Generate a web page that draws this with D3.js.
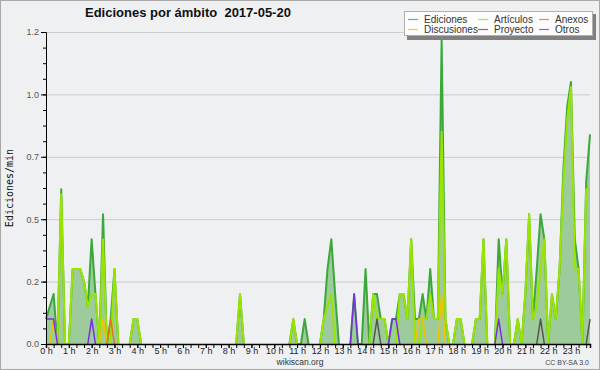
<!DOCTYPE html>
<html>
<head>
<meta charset="utf-8">
<script src="https://cdn.jsdelivr.net/npm/d3@7"></script>
<style>
  body { margin: 0; background: #fff; }
  svg { display: block; }
</style>
</head>
<body>
<svg id="chart" width="600" height="370"></svg>
<script>
// valores cada 10 minutos (144 puntos, 00:00 -> 23:50), ediciones/min
const ediciones = [
  0.1, 0.15, 0.2, 0, 0.62, 0, 0, 0.3, 0.3, 0.3, 0.25, 0.15,
  0.42, 0.2, 0, 0.52, 0, 0.1, 0.3, 0, 0, 0, 0, 0.1,
  0.1, 0, 0, 0, 0, 0, 0, 0, 0, 0, 0, 0,
  0, 0, 0, 0, 0, 0, 0, 0, 0, 0, 0, 0,
  0, 0, 0, 0.2, 0, 0, 0, 0, 0, 0, 0, 0,
  0, 0, 0, 0, 0, 0.1, 0, 0, 0.1, 0, 0, 0,
  0, 0.1, 0.3, 0.42, 0.2, 0, 0, 0, 0, 0.2, 0, 0,
  0.3, 0, 0.2, 0.2, 0.1, 0.1, 0, 0.1, 0.1, 0.2, 0.2, 0.1,
  0.42, 0.1, 0.1, 0.2, 0.1, 0.3, 0.1, 0.1, 1.22, 0.1, 0, 0,
  0.1, 0.1, 0, 0, 0, 0.1, 0.1, 0.42, 0, 0, 0, 0.42,
  0.2, 0.42, 0, 0, 0.1, 0, 0.2, 0.52, 0.1, 0.3, 0.52, 0.42,
  0, 0.2, 0.1, 0.3, 0.7, 0.95, 1.05, 0.42, 0.3, 0, 0.65, 0.84
];
const articulos = [
  0, 0, 0, 0, 0.6, 0, 0, 0.3, 0.3, 0.3, 0.25, 0.15,
  0.2, 0.2, 0, 0.42, 0, 0, 0.3, 0, 0, 0, 0, 0.1,
  0.1, 0, 0, 0, 0, 0, 0, 0, 0, 0, 0, 0,
  0, 0, 0, 0, 0, 0, 0, 0, 0, 0, 0, 0,
  0, 0, 0, 0.2, 0, 0, 0, 0, 0, 0, 0, 0,
  0, 0, 0, 0, 0, 0.1, 0, 0, 0, 0, 0, 0,
  0, 0.1, 0.15, 0.2, 0, 0, 0, 0, 0, 0, 0, 0,
  0, 0, 0.2, 0.1, 0.1, 0.1, 0, 0, 0, 0.2, 0.2, 0.1,
  0.42, 0, 0, 0.1, 0.1, 0.2, 0.1, 0.1, 0.85, 0.1, 0, 0,
  0.1, 0.1, 0, 0, 0, 0.1, 0.1, 0.42, 0, 0, 0, 0.3,
  0.2, 0.42, 0, 0, 0.1, 0, 0.2, 0.52, 0.1, 0.15, 0.3, 0.42,
  0, 0.2, 0.1, 0.3, 0.65, 0.9, 1.03, 0.3, 0.3, 0, 0.62, 0.62
];
const discusiones = [
  0, 0, 0.1, 0, 0, 0, 0, 0, 0, 0, 0, 0,
  0, 0, 0, 0.1, 0, 0, 0, 0, 0, 0, 0, 0,
  0, 0, 0, 0, 0, 0, 0, 0, 0, 0, 0, 0,
  0, 0, 0, 0, 0, 0, 0, 0, 0, 0, 0, 0,
  0, 0, 0, 0, 0, 0, 0, 0, 0, 0, 0, 0,
  0, 0, 0, 0, 0, 0, 0, 0, 0, 0, 0, 0,
  0, 0, 0, 0, 0, 0, 0, 0, 0, 0, 0, 0,
  0, 0, 0, 0, 0, 0, 0, 0, 0, 0, 0, 0,
  0, 0, 0.1, 0.1, 0, 0, 0, 0, 0.2, 0, 0, 0,
  0, 0, 0, 0, 0, 0, 0, 0, 0, 0, 0, 0,
  0, 0, 0, 0, 0, 0, 0, 0, 0, 0, 0, 0,
  0, 0, 0, 0, 0, 0, 0, 0, 0, 0, 0, 0
];
const anexos = [
  0, 0, 0, 0, 0, 0, 0, 0, 0, 0, 0, 0,
  0, 0, 0, 0, 0, 0.1, 0, 0, 0, 0, 0, 0,
  0, 0, 0, 0, 0, 0, 0, 0, 0, 0, 0, 0,
  0, 0, 0, 0, 0, 0, 0, 0, 0, 0, 0, 0,
  0, 0, 0, 0, 0, 0, 0, 0, 0, 0, 0, 0,
  0, 0, 0, 0, 0, 0, 0, 0, 0, 0, 0, 0,
  0, 0, 0, 0, 0, 0, 0, 0, 0, 0, 0, 0,
  0, 0, 0, 0, 0, 0, 0, 0, 0, 0, 0, 0,
  0, 0, 0, 0, 0, 0, 0, 0, 0, 0, 0, 0,
  0, 0, 0, 0, 0, 0, 0, 0, 0, 0, 0, 0,
  0, 0, 0, 0, 0, 0, 0, 0, 0, 0, 0, 0,
  0, 0, 0, 0, 0, 0, 0, 0, 0, 0, 0, 0
];
const proyecto = [
  0, 0, 0, 0, 0, 0, 0, 0, 0, 0, 0, 0,
  0, 0, 0, 0, 0, 0, 0, 0, 0, 0, 0, 0,
  0, 0, 0, 0, 0, 0, 0, 0, 0, 0, 0, 0,
  0, 0, 0, 0, 0, 0, 0, 0, 0, 0, 0, 0,
  0, 0, 0, 0, 0, 0, 0, 0, 0, 0, 0, 0,
  0, 0, 0, 0, 0, 0, 0, 0, 0, 0, 0, 0,
  0, 0, 0, 0, 0, 0, 0, 0, 0, 0, 0, 0,
  0, 0, 0, 0.1, 0, 0, 0, 0, 0, 0, 0, 0,
  0, 0, 0, 0, 0, 0, 0, 0, 0, 0, 0, 0,
  0, 0, 0, 0, 0, 0, 0, 0, 0, 0, 0, 0,
  0, 0, 0, 0, 0, 0, 0, 0, 0, 0, 0.1, 0,
  0, 0, 0, 0, 0, 0, 0, 0, 0, 0, 0, 0.1
];
const otros = [
  0.1, 0.1, 0.1, 0, 0, 0, 0, 0, 0, 0, 0, 0,
  0.1, 0, 0, 0, 0, 0, 0, 0, 0, 0, 0, 0,
  0, 0, 0, 0, 0, 0, 0, 0, 0, 0, 0, 0,
  0, 0, 0, 0, 0, 0, 0, 0, 0, 0, 0, 0,
  0, 0, 0, 0, 0, 0, 0, 0, 0, 0, 0, 0,
  0, 0, 0, 0, 0, 0, 0, 0, 0, 0, 0, 0,
  0, 0, 0, 0, 0, 0, 0, 0, 0, 0.2, 0, 0,
  0, 0, 0, 0, 0, 0, 0, 0.1, 0.1, 0, 0, 0,
  0, 0, 0, 0, 0, 0, 0, 0, 0, 0, 0, 0,
  0, 0, 0, 0, 0, 0, 0, 0, 0, 0, 0, 0.1,
  0, 0, 0, 0, 0, 0, 0, 0, 0, 0, 0, 0,
  0, 0, 0, 0, 0, 0, 0, 0, 0, 0, 0, 0
];

const horas = ["0 h", "1 h", "2 h", "3 h", "4 h", "5 h", "6 h", "7 h", "8 h", "9 h", "10 h", "11 h",
  "12 h", "13 h", "14 h", "15 h", "16 h", "17 h", "18 h", "19 h", "20 h", "21 h", "22 h", "23 h"];
const yTicks = [0, 0.25, 0.5, 0.75, 1, 1.25];
const yTickLabels = ["0.0", "0.2", "0.5", "0.7", "1.0", "1.2"];

const series = [
  { name: "Ediciones", values: ediciones, color: "#3aa83a", width: 2 },
  { name: "Discusiones", values: discusiones, color: "#f2c200", width: 1.5 },
  { name: "Artículos", values: articulos, color: "#9ae400", width: 2 },
  { name: "Proyecto", values: proyecto, color: "#555555", width: 1.5 },
  { name: "Anexos", values: anexos, color: "#f07018", width: 1.5 },
  { name: "Otros", values: otros, color: "#7a2ee6", width: 1.5 }
];

const svg = d3.select("#chart");
const font = "'Liberation Sans', Arial, sans-serif";

// fondo y marco
svg.append("rect")
  .attr("x", 0.5).attr("y", 0.5)
  .attr("width", 599).attr("height", 369)
  .attr("fill", "#eff0f2")
  .attr("stroke", "#a8a8a8");

const x = d3.scaleLinear().domain([0, 143]).range([46, 590]);
const y = d3.scaleLinear().domain([0, 1.25]).range([344, 32]);

// rejilla
svg.selectAll(".grid")
  .data(yTicks.slice(1))
  .enter()
  .append("line")
  .attr("class", "grid")
  .attr("x1", 46).attr("x2", 590)
  .attr("y1", d => y(d) + 0.5).attr("y2", d => y(d) + 0.5)
  .attr("stroke", "#cccccc")
  .attr("stroke-width", 1);

// area de ediciones
const area = d3.area()
  .x((d, i) => x(i))
  .y0(y(0))
  .y1(d => y(d));

svg.append("path")
  .datum(ediciones)
  .attr("fill", "#9ecb9b")
  .attr("d", area);

// lineas (solo donde hay valores)
const drawOrder = ["Ediciones", "Artículos", "Discusiones", "Anexos", "Proyecto", "Otros"];
drawOrder.forEach(name => {
  const s = series.find(d => d.name === name);
  const v = s.values;
  const line = d3.line()
    .defined((d, i) => d > 0 || v[i - 1] > 0 || v[i + 1] > 0)
    .x((d, i) => x(i))
    .y(d => y(d));
  svg.append("path")
    .datum(v)
    .attr("fill", "none")
    .attr("stroke", s.color)
    .attr("stroke-width", s.width)
    .attr("stroke-linejoin", "round")
    .attr("d", line);
});

// eje Y
const yAxis = d3.axisLeft(y)
  .tickValues(yTicks)
  .tickFormat((d, i) => yTickLabels[i])
  .tickSize(5)
  .tickPadding(2);

const gy = svg.append("g")
  .attr("transform", "translate(46,0)")
  .call(yAxis);
gy.select(".domain").attr("stroke", "#000");
gy.selectAll(".tick line").attr("stroke", "#000");
gy.selectAll(".tick text")
  .attr("fill", "#555")
  .style("font-family", font)
  .style("font-size", "9px");

const gyMinor = svg.append("g")
  .attr("transform", "translate(46,0)")
  .call(d3.axisLeft(y).tickValues(d3.range(0, 1.26, 0.0625)).tickSize(3).tickFormat(""));
gyMinor.select(".domain").remove();
gyMinor.selectAll(".tick line").attr("stroke", "#000");

// eje X
const xAxis = d3.axisBottom(x)
  .tickValues(horas.map((h, i) => i * 6))
  .tickFormat((d, i) => horas[i])
  .tickSize(4)
  .tickPadding(0);

const gx = svg.append("g")
  .attr("transform", "translate(0,344)")
  .call(xAxis);
gx.select(".domain").attr("stroke", "#000").attr("stroke-width", 1.5);
gx.selectAll(".tick line").attr("stroke", "#000");
gx.selectAll(".tick text")
  .attr("fill", "#222")
  .style("font-family", font)
  .style("font-size", "9px");

const gxMinor = svg.append("g")
  .attr("transform", "translate(0,344)")
  .call(d3.axisBottom(x).tickValues(d3.range(0, 143, 2)).tickSize(4).tickFormat(""));
gxMinor.select(".domain").remove();
gxMinor.selectAll(".tick line").attr("stroke", "#000");

// titulo
svg.append("text")
  .attr("x", 85).attr("y", 17)
  .style("white-space", "pre")
  .style("font-family", font)
  .style("font-size", "13px")
  .style("font-weight", "bold")
  .attr("fill", "#111")
  .text("Ediciones por ámbito  2017-05-20");

// etiqueta eje Y
svg.append("text")
  .attr("transform", "translate(13,188) rotate(-90)")
  .attr("text-anchor", "middle")
  .style("font-family", "'DejaVu Sans Mono', monospace")
  .style("font-size", "10px")
  .attr("fill", "#111")
  .text("Ediciones/min");

// pie
svg.append("text")
  .attr("x", 300).attr("y", 365)
  .attr("text-anchor", "middle")
  .style("font-family", font)
  .style("font-size", "8.5px")
  .attr("fill", "#333")
  .text("wikiscan.org");

svg.append("text")
  .attr("x", 589).attr("y", 365)
  .attr("text-anchor", "end")
  .style("font-family", font)
  .style("font-size", "7px")
  .attr("fill", "#444")
  .text("CC BY-SA 3.0");

// leyenda
const legend = svg.append("g");
legend.append("rect")
  .attr("x", 407).attr("y", 14)
  .attr("width", 189).attr("height", 26)
  .attr("fill", "#808080");
legend.append("rect")
  .attr("x", 404.5).attr("y", 11.5)
  .attr("width", 188).attr("height", 24)
  .attr("fill", "#fcfcfc")
  .attr("stroke", "#b0b0b0");

const legendItems = [
  { name: "Ediciones", col: 0, row: 0 },
  { name: "Discusiones", col: 0, row: 1 },
  { name: "Artículos", col: 1, row: 0 },
  { name: "Proyecto", col: 1, row: 1 },
  { name: "Anexos", col: 2, row: 0 },
  { name: "Otros", col: 2, row: 1 }
];
const colX = [408, 478, 539];

const li = legend.selectAll(".li")
  .data(legendItems)
  .enter()
  .append("g")
  .attr("class", "li")
  .attr("transform", d => `translate(${colX[d.col]},${19.5 + d.row * 10})`);

li.append("line")
  .attr("x1", 0).attr("x2", 10)
  .attr("stroke", d => series.find(s => s.name === d.name).color)
  .attr("stroke-width", 1.2)
  .attr("opacity", 0.8);

li.append("text")
  .attr("x", 16).attr("y", 3.5)
  .style("font-family", font)
  .style("font-size", "10px")
  .attr("fill", "#333")
  .text(d => d.name);
</script>
</body>
</html>
